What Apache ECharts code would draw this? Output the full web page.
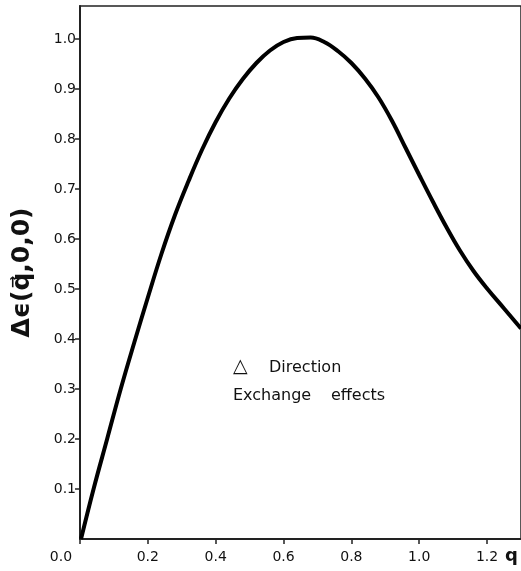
<!DOCTYPE html>
<html>
<head>
<meta charset="utf-8">
<script src="https://cdn.jsdelivr.net/npm/echarts@6/dist/echarts.min.js"></script>
<style>html,body{margin:0;padding:0;background:#fff;}#c{width:521px;height:571px;}</style>
</head>
<body>
<div id="c"></div>
<script>
var qValues = [0.003, 0.04, 0.08, 0.12, 0.16, 0.20, 0.24, 0.28, 0.32, 0.36, 0.40, 0.44, 0.48, 0.52, 0.56, 0.60, 0.64, 0.68, 0.72, 0.76, 0.80, 0.84, 0.88, 0.92, 0.96, 1.00, 1.04, 1.08, 1.12, 1.16, 1.20, 1.25, 1.30];
var deltaE  = [0.0,   0.10, 0.20, 0.30, 0.393, 0.483, 0.570, 0.648, 0.716, 0.779, 0.834, 0.881, 0.920, 0.952, 0.977, 0.994, 1.002, 1.003, 0.994, 0.976, 0.952, 0.921, 0.883, 0.836, 0.782, 0.728, 0.675, 0.624, 0.577, 0.536, 0.501, 0.461, 0.421];
var xTicks = [0.0, 0.2, 0.4, 0.6, 0.8, 1.0, 1.2];
var yTicks = [0.1, 0.2, 0.3, 0.4, 0.5, 0.6, 0.7, 0.8, 0.9, 1.0];
var yName = 'Δϵ(q\u20D7,0,0)';
var xName = 'q';
var noteWords = ['△', 'Direction', 'Exchange', 'effects'];

var chart = echarts.init(document.getElementById('c'), null, {renderer: 'canvas'});
var font = 'DejaVu Sans';
function txt(s, x, y, size) {
  return {type: 'text', x: x, y: y, style: {text: s, font: size + 'px "DejaVu Sans"', fill: '#111', verticalAlign: 'middle', align: 'left'}};
}
chart.setOption({
  animation: false,
  backgroundColor: '#fff',
  grid: {left: 80, right: 0, top: 6, bottom: 32, show: true, borderColor: '#222', borderWidth: 1.5, backgroundColor: 'transparent'},
  xAxis: {
    type: 'value', min: 0, max: 1.3,
    axisLine: {show: true, onZero: false, lineStyle: {color: '#222', width: 2}},
    axisTick: {show: true, inside: false, length: 5, lineStyle: {color: '#222', width: 1.5}, customValues: xTicks},
    axisLabel: {show: true, margin: 11, color: '#111', fontFamily: font, fontSize: 14, customValues: xTicks,
      formatter: function (v) { return v === 0 ? '{z|' + v.toFixed(1) + '}' : v.toFixed(1); },
      rich: {z: {fontFamily: font, fontSize: 14, color: '#111', padding: [0, 38, 0, 0]}}},
    splitLine: {show: false}
  },
  yAxis: {
    type: 'value', min: 0, max: 1.066,
    name: yName, nameLocation: 'middle', nameGap: 45, nameRotate: 90,
    nameTextStyle: {fontFamily: font, fontSize: 25, fontWeight: 'bold', color: '#111'},
    axisLine: {show: true, onZero: false, lineStyle: {color: '#222', width: 2}},
    axisTick: {show: true, inside: false, length: 5, lineStyle: {color: '#222', width: 1.5}, customValues: yTicks},
    axisLabel: {show: true, margin: 4, color: '#111', fontFamily: font, fontSize: 14, customValues: yTicks,
      padding: [0, 0, 6, 0],
      formatter: function (v) { return v.toFixed(1); }},
    splitLine: {show: false}
  },
  graphic: [
    txt(noteWords[0], 233, 367, 19),
    txt(noteWords[1], 269, 368, 16),
    txt(noteWords[2], 233, 396, 16),
    txt(noteWords[3], 331, 396, 16),
    {type: 'text', x: 505, y: 556, style: {text: xName, font: 'bold 18px "DejaVu Sans"', fill: '#111', verticalAlign: 'middle', align: 'left'}}
  ],
  series: [{
    type: 'line', smooth: 0.4, showSymbol: false,
    lineStyle: {color: '#000', width: 4},
    data: qValues.map(function (q, i) { return [q, deltaE[i]]; })
  }]
});
</script>
</body>
</html>
